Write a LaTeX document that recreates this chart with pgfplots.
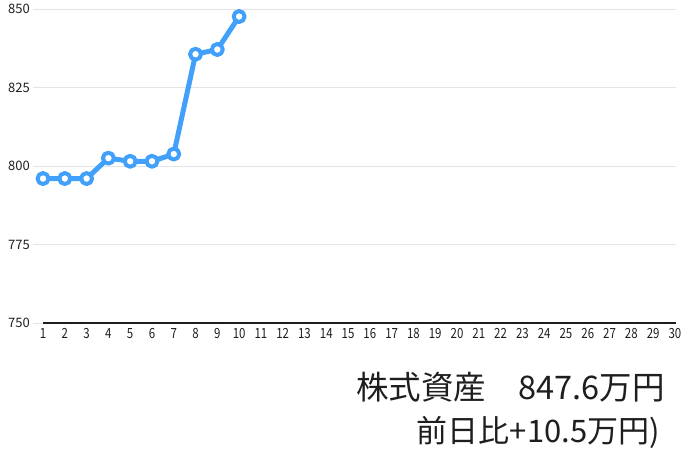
\documentclass[border=0pt]{standalone}
\usepackage{pgfplots}
\pgfplotsset{compat=1.18}
\usepackage{fontspec}
\setmainfont{Noto Sans CJK JP}
\newfontfamily\cjk{Noto Sans CJK JP}
\definecolor{lineblue}{RGB}{64,160,250}
\definecolor{gridgray}{RGB}{228,228,228}
\definecolor{txt}{RGB}{30,30,30}
\begin{document}
\begin{tikzpicture}
  \useasboundingbox (0,0) rectangle (696pt,459pt);
  \begin{axis}[
      at={(33pt,136pt)}, anchor=south west,
      scale only axis,
      width=643pt, height=314pt,
      xmin=0.54, xmax=30.05,
      ymin=750, ymax=850,
      axis line style={draw=none},
      clip=false,
      xtick={1,...,30},
      ytick={750,775,800,825,850},
      ymajorgrids,
      grid style={gridgray, line width=0.8pt},
      major tick length=0pt,
      tick style={draw=none},
      /pgf/number format/assume math mode=true,
      xticklabel style={font=\cjk\fontsize{14}{14}\selectfont, text=txt,
        anchor=center, inner sep=0pt, yshift=-10.5pt, xscale=0.82},
      yticklabel style={font=\cjk\fontsize{13}{13}\selectfont, text=txt,
        anchor=east, inner sep=0pt, xshift=-3pt},
      xticklabel={\pgfmathprintnumber[int detect]{\tick}},
      yticklabel={\pgfmathprintnumber[int detect]{\tick}},
    ]
    \draw[txt, line width=1.1pt] (axis cs:1,750) -- (axis cs:30.05,750);
    \addplot[lineblue, line width=5pt, line join=round,
      mark=*, mark size=5.5pt,
      mark options={fill=white, draw=lineblue, line width=4pt}]
      coordinates {
        (1,796.0) (2,796.0) (3,796.0) (4,802.5) (5,801.5)
        (6,801.5) (7,803.8) (8,835.6) (9,837.1) (10,847.6)
      };
  \end{axis}
  \node[anchor=base east, inner sep=0pt, text=txt, font=\cjk\fontsize{32.5}{32.5}\selectfont]
    at (665pt,60pt) {株式資産　847.6万円};
  \node[anchor=base east, inner sep=0pt, text=txt, font=\cjk\fontsize{31}{31}\selectfont]
    at (660pt,17pt) {前日比+10.5万円)};
\end{tikzpicture}
\end{document}
